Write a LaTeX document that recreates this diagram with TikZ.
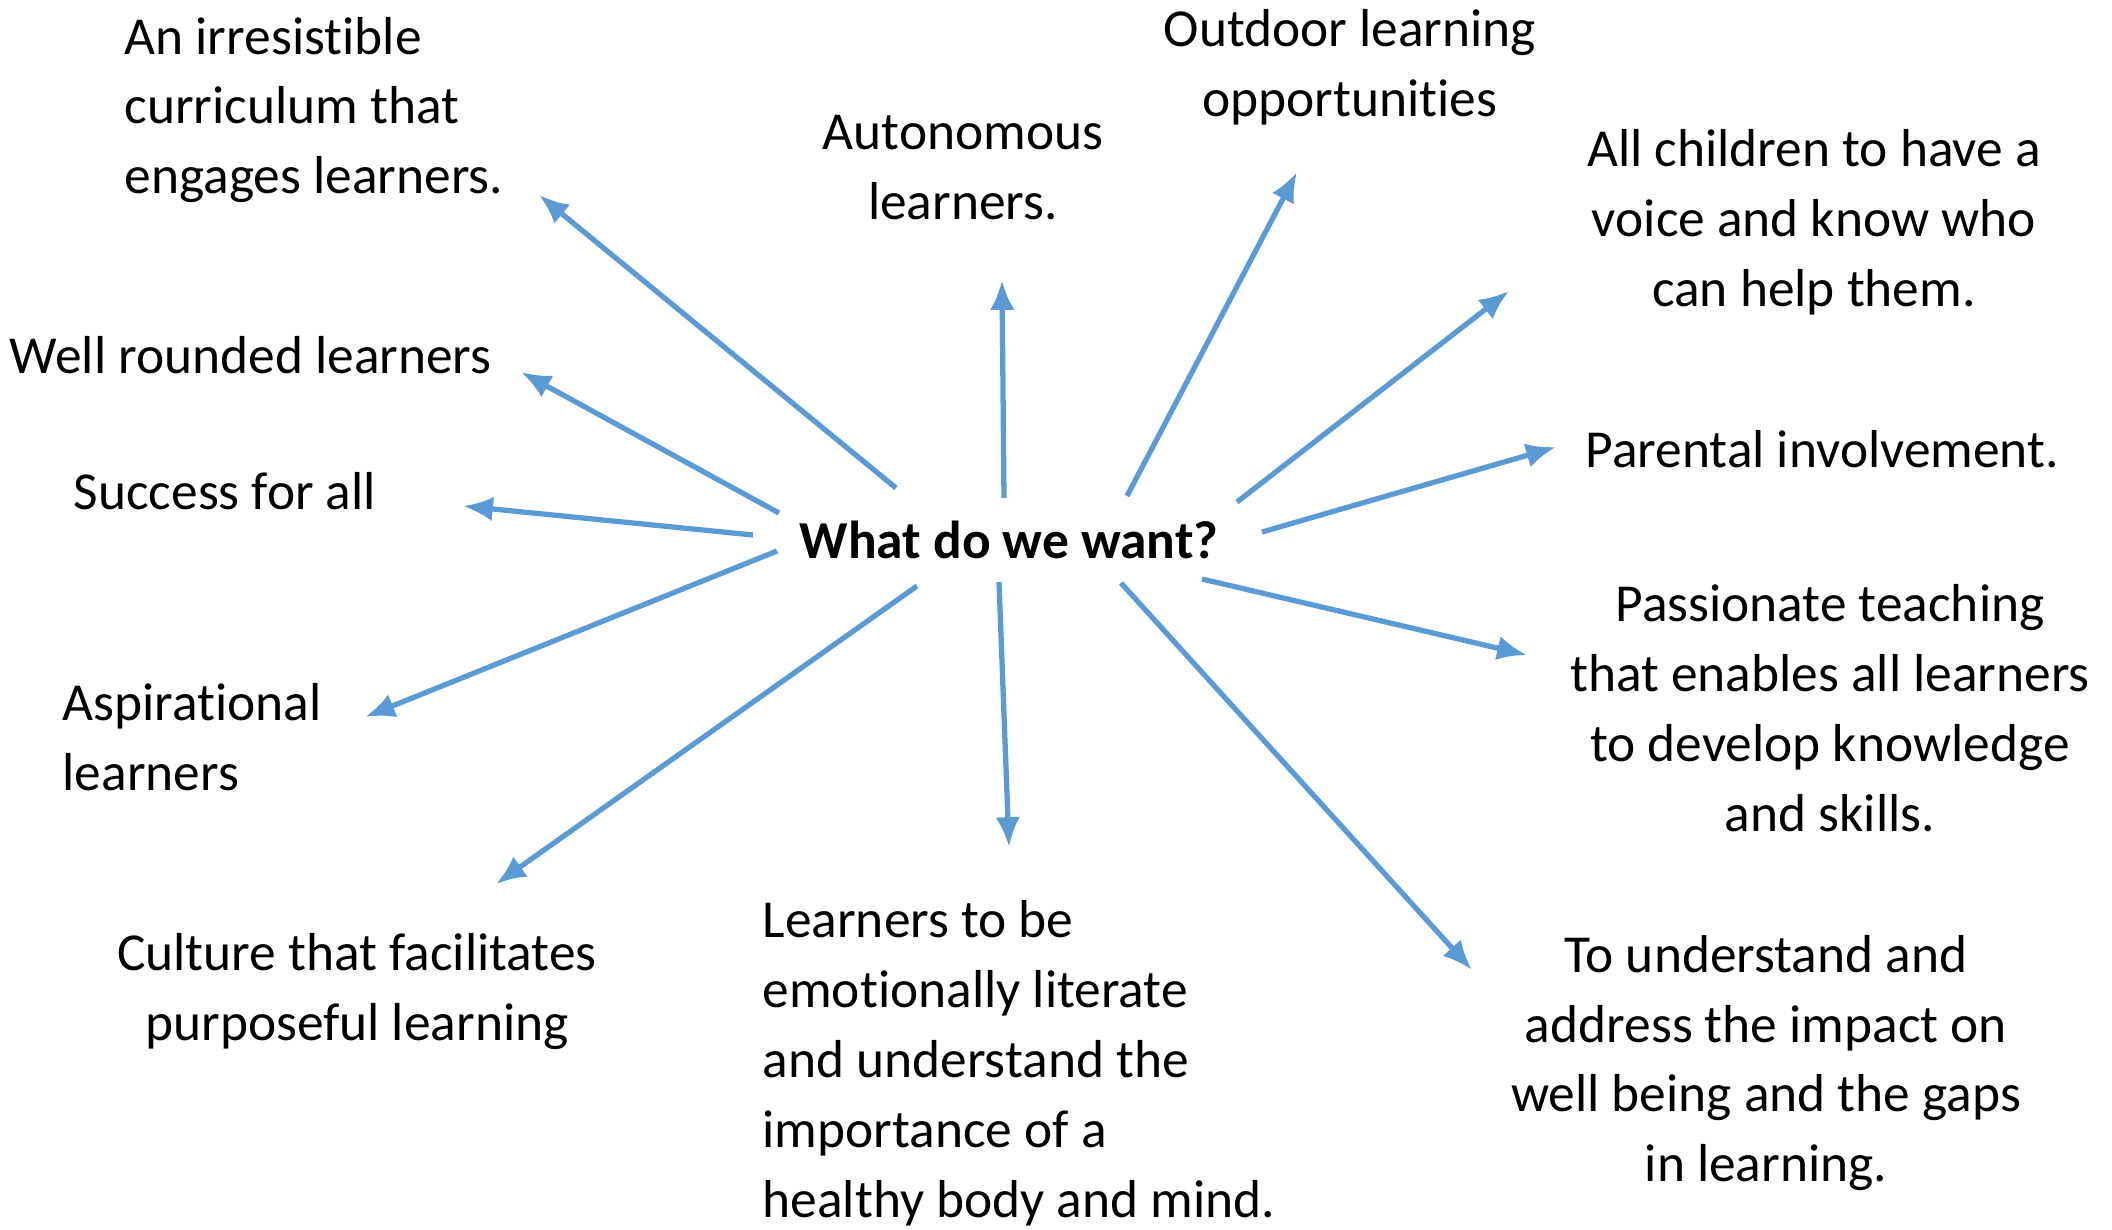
\documentclass[tikz,border=0pt]{standalone}
\usepackage{fontspec}
\setmainfont{Carlito}[Ligatures=NoCommon,Contextuals=NoAlternate]
\usetikzlibrary{arrows.meta}

\definecolor{wantblue}{RGB}{91,155,213}

\begin{document}
\begin{tikzpicture}

\tikzset{want/.style={font=\fontsize{15.2}{19.9}\selectfont,inner sep=0pt},
  wantarrow/.style={-{Latex[length=8.5pt,width=7pt]},line width=1.5pt,wantblue}}

  \useasboundingbox (0,0) rectangle (21.12,-12.29);

  \node[want,font=\fontsize{15.2}{19.9}\selectfont\bfseries] (ctr) at (10.09,-5.40) {What do we want?};

  \node[want,anchor=west,align=left] (curr) at (1.24,-1.10) {An irresistible\\curriculum that\\engages learners.};
  \node[want,anchor=west] (round) at (0.09,-3.55) {Well rounded learners};
  \node[want,anchor=west] (succ) at (0.73,-4.91) {Success for all};
  \node[want,anchor=west,align=left] (asp) at (0.62,-7.37) {Aspirational\\learners};
  \node[want,align=center] (cult) at (3.57,-9.92) {Culture that facilitates\\purposeful learning};
  \node[want,anchor=west,align=left] (emo) at (7.62,-10.63) {Learners to be\\emotionally literate\\and understand the\\importance of a\\healthy body and mind.};
  \node[want,align=center] (gaps) at (17.66,-10.63) {To understand and\\address the impact on\\well being and the gaps\\in learning.};
  \node[want,align=center] (pass) at (18.30,-7.08) {Passionate teaching\\that enables all learners\\to develop knowledge\\and skills.};
  \node[want,anchor=west] (par) at (15.85,-4.49) {Parental involvement.};
  \node[want,align=center] (voice) at (18.14,-2.22) {All children to have a\\voice and know who\\can help them.};
  \node[want,align=center] (out) at (13.50,-0.67) {Outdoor learning\\opportunities};
  \node[want,align=center] (auto) at (9.63,-1.68) {Autonomous\\learners.};

  % start and tip of every spoke
  \coordinate (s1) at (8.96,-4.88);   \coordinate (t1) at (5.39,-1.95);
  \coordinate (s2) at (7.79,-5.13);   \coordinate (t2) at (5.21,-3.72);
  \coordinate (s3) at (7.53,-5.35);   \coordinate (t3) at (4.63,-5.06);
  \coordinate (s4) at (7.77,-5.51);   \coordinate (t4) at (3.65,-7.17);
  \coordinate (s5) at (9.17,-5.86);   \coordinate (t5) at (4.96,-8.84);
  \coordinate (s6) at (9.99,-5.82);   \coordinate (t6) at (10.09,-8.47);
  \coordinate (s7) at (11.21,-5.83);  \coordinate (t7) at (14.72,-9.70);
  \coordinate (s8) at (12.02,-5.79);  \coordinate (t8) at (15.27,-6.55);
  \coordinate (s9) at (12.62,-5.32);  \coordinate (t9) at (15.56,-4.47);
  \coordinate (s10) at (12.37,-5.02); \coordinate (t10) at (15.09,-2.91);
  \coordinate (s11) at (11.27,-4.96); \coordinate (t11) at (12.97,-1.72);
  \coordinate (s12) at (10.04,-4.98); \coordinate (t12) at (10.02,-2.80);

  \draw[wantarrow] (s1) -- (t1);
  \draw[wantarrow] (s2) -- (t2);
  \draw[wantarrow] (s3) -- (t3);
  \draw[wantarrow] (s4) -- (t4);
  \draw[wantarrow] (s5) -- (t5);
  \draw[wantarrow] (s6) -- (t6);
  \draw[wantarrow] (s7) -- (t7);
  \draw[wantarrow] (s8) -- (t8);
  \draw[wantarrow] (s9) -- (t9);
  \draw[wantarrow] (s10) -- (t10);
  \draw[wantarrow] (s11) -- (t11);
  \draw[wantarrow] (s12) -- (t12);

\end{tikzpicture}
\end{document}
